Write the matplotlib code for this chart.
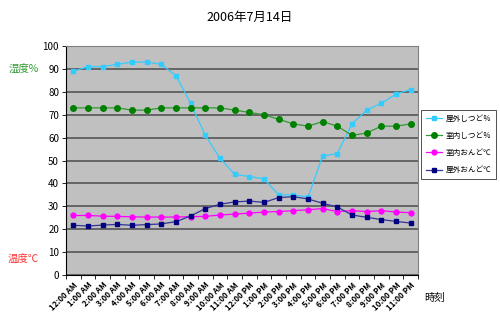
import matplotlib
matplotlib.use("Agg")
import matplotlib.pyplot as plt
import numpy as np

plt.rcParams['font.family'] = ['Noto Sans CJK JP', 'DejaVu Sans']

hours = ["12:00 AM", "1:00 AM", "2:00 AM", "3:00 AM", "4:00 AM", "5:00 AM", "6:00 AM",
         "7:00 AM", "8:00 AM", "9:00 AM", "10:00 AM", "11:00 AM", "12:00 PM", "1:00 PM",
         "2:00 PM", "3:00 PM", "4:00 PM", "5:00 PM", "6:00 PM", "7:00 PM", "8:00 PM",
         "9:00 PM", "10:00 PM", "11:00 PM"]
out_hum = [89, 91, 91, 92, 93, 93, 92, 87, 75, 61, 51, 44, 43, 42, 35, 35, 34, 52, 53, 66, 72, 75, 79, 81]
in_hum = [73, 73, 73, 73, 72, 72, 73, 73, 73, 73, 73, 72, 71, 70, 68, 66, 65, 67, 65, 61, 62, 65, 65, 66]
in_temp = [26, 26, 25.7, 25.6, 25.4, 25.3, 25.3, 25.3, 25.5, 25.6, 26.2, 26.6, 27, 27.5, 27.7, 28.1,
           28.5, 29, 27.7, 28.1, 27.7, 28.1, 27.5, 27.2]
out_temp = [21.7, 21.4, 21.8, 22.1, 21.7, 22, 22.3, 23.3, 25.8, 29, 30.9, 31.9, 32.3, 31.7, 33.8,
            34.2, 33.2, 31.3, 29.7, 26.2, 25.2, 24.2, 23.4, 22.7]
series_names = ["屋外しつど％", "室内しつど％", "室内おんど℃", "屋外おんど℃"]

fig = plt.figure(figsize=(5.0, 3.22), dpi=100)
ax = fig.add_axes([0.132, 0.146, 0.704, 0.711])
ax.set_facecolor('#C0C0C0')
x = np.arange(len(hours))

l1, = ax.plot(x, out_hum, color='#33CCFF', lw=0.9, marker='s', ms=3.5, mfc='#33CCFF', mec='#33CCFF')
l2, = ax.plot(x, in_hum, color='#339933', lw=0.9, marker='o', ms=4, mfc='#008000', mec='#008000')
l3, = ax.plot(x, in_temp, color='#FF00FF', lw=0.9, marker='o', ms=3.5, mfc='#FF00FF', mec='#FF00FF')
l4, = ax.plot(x, out_temp, color='#333399', lw=0.9, marker='s', ms=3.5, mfc='#000080', mec='#000080')

ax.set_xlim(-0.5, len(hours) - 0.5)
ax.set_ylim(0, 100)
ax.set_yticks(np.arange(0, 101, 10))
ax.yaxis.grid(True, color='#4d4d4d', lw=1.1)
ax.set_axisbelow(True)
ax.tick_params(axis='y', labelsize=7, length=3, width=0.6, color='black', pad=2)

ax.set_xticks(np.arange(-0.5, len(hours), 1.0))
ax.set_xticklabels([])
ax.tick_params(axis='x', which='major', length=3, width=0.6, color='black')
ax.set_xticks(x, minor=True)
ax.set_xticklabels(hours, minor=True, rotation=45, ha='right', va='top', fontsize=5.8,
                   fontweight='bold', rotation_mode='anchor')
ax.tick_params(axis='x', which='minor', length=0, pad=4)

for s in ['top', 'right']:
    ax.spines[s].set_color('#808080')
    ax.spines[s].set_linewidth(0.8)
for s in ['left', 'bottom']:
    ax.spines[s].set_color('black')
    ax.spines[s].set_linewidth(0.8)

fig.text(0.5, 0.945, "2006年7月14日", ha='center', va='center', fontsize=9)
fig.text(0.047, 0.786, "湿度%", color='#339933', ha='center', va='center', fontsize=7.5)
fig.text(0.047, 0.195, "温度℃", color='#FF3333', ha='center', va='center', fontsize=7.5)
fig.text(0.87, 0.075, "時刻", ha='center', va='center', fontsize=7.5)

leg = fig.legend([l1, l2, l3, l4], series_names, loc='upper left',
                 bbox_to_anchor=(0.842, 0.658), fontsize=5.5, frameon=True, fancybox=False,
                 borderpad=0.6, labelspacing=1.2, handlelength=2.2, handletextpad=0.4,
                 borderaxespad=0)
leg.get_frame().set_edgecolor('black')
leg.get_frame().set_linewidth(0.6)

fig.savefig("out.png", dpi=100)
